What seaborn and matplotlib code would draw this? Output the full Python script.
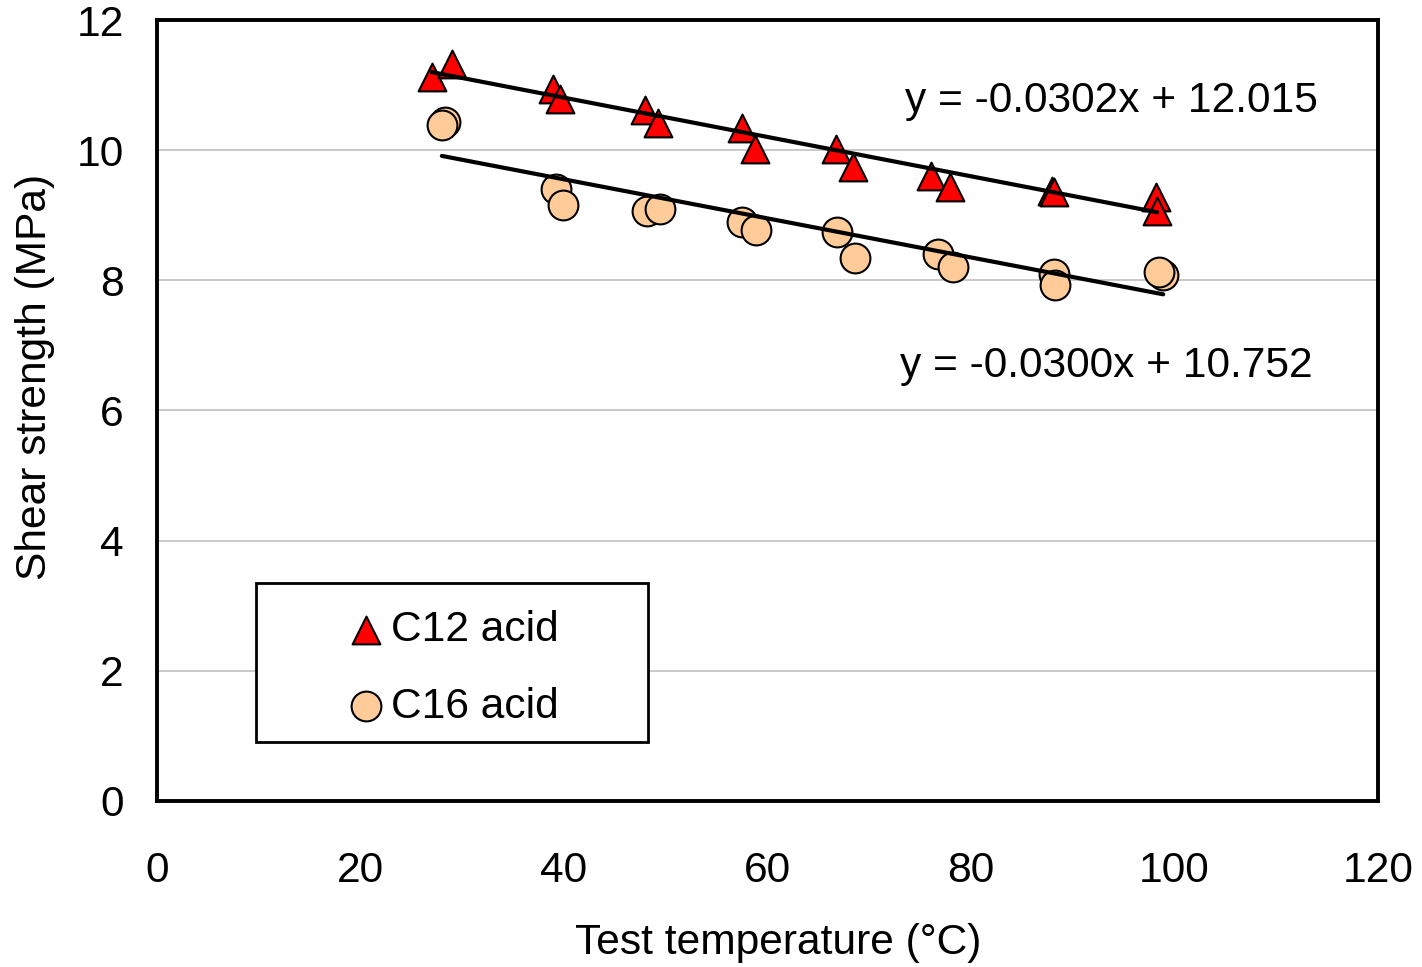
import numpy as np
import pandas as pd
import matplotlib
matplotlib.use("Agg")
import matplotlib.pyplot as plt
from matplotlib.patches import Rectangle
import seaborn as sns

# data
c12_temp = [27.0, 29.0, 38.9, 39.6, 48.0, 49.2, 57.5, 58.8, 66.7, 68.4, 76.1, 77.9, 88.0, 88.2, 98.2, 98.3]
c12_shear = [11.12, 11.32, 10.94, 10.78, 10.62, 10.42, 10.34, 10.02, 10.02, 9.74, 9.60, 9.43, 9.37, 9.35, 9.28, 9.06]
c16_temp = [28.3, 28.0, 39.2, 39.9, 48.2, 49.4, 57.5, 58.9, 66.8, 68.6, 76.8, 78.2, 88.2, 88.3, 98.9, 98.5]
c16_shear = [10.43, 10.39, 9.41, 9.16, 9.07, 9.10, 8.90, 8.78, 8.75, 8.35, 8.41, 8.21, 8.10, 7.93, 8.08, 8.13]

series_names = ["C12 acid", "C16 acid"]
slopes = [-0.0302, -0.0300]
intercepts = [12.015, 10.752]
eq_labels = ["y = -0.0302x + 12.015", "y = -0.0300x + 10.752"]

df12 = pd.DataFrame({"temp": c12_temp, "shear": c12_shear})
df16 = pd.DataFrame({"temp": c16_temp, "shear": c16_shear})

sns.set_style("white")
plt.rcParams["font.family"] = ["Liberation Sans", "DejaVu Sans"]
plt.rcParams["text.color"] = "black"
plt.rcParams["axes.labelcolor"] = "black"

fs = 30.6

fig = plt.figure(figsize=(14.22, 9.67), dpi=100)
ax = fig.add_axes([0.1104, 0.1717, 0.8586, 0.8076])

ax.set_xlim(0, 120)
ax.set_ylim(0, 12)
ax.set_yticks(range(0, 13, 2))
ax.set_xticks(range(0, 121, 20))
ax.grid(axis="y", color="#c0c0c0", linewidth=1.2)
ax.set_axisbelow(True)

# trendlines
for d, m, b in zip([df12, df16], slopes, intercepts):
    xs = np.array([d["temp"].min(), d["temp"].max()])
    sns.lineplot(x=xs, y=m * xs + b, color="black", linewidth=3, ax=ax, zorder=3)

sns.scatterplot(data=df12, x="temp", y="shear", marker="^", s=400, color="#ff0000",
                edgecolor="black", linewidth=1.5, ax=ax, zorder=2, label=series_names[0])
sns.scatterplot(data=df16, x="temp", y="shear", marker="o", s=460, color="#ffcc99",
                edgecolor="black", linewidth=1.5, ax=ax, zorder=2, label=series_names[1])

ax.text(73.5, 10.76, eq_labels[0], fontsize=fs, va="center", ha="left")
ax.text(73.0, 6.69, eq_labels[1], fontsize=fs, va="center", ha="left")

for s in ax.spines.values():
    s.set_color("black")
    s.set_linewidth(2.8)

ax.tick_params(axis="both", direction="in", length=10, color="#999999", width=1,
               labelsize=fs, labelcolor="black")
ax.tick_params(axis="x", pad=36)
ax.tick_params(axis="y", pad=24)

ax.set_xlabel("Test temperature (\u00b0C)", fontsize=fs, va="center")
ax.set_ylabel("Shear strength (MPa)", fontsize=fs, va="center")
ax.xaxis.set_label_coords(0.5086, -0.1818)
ax.yaxis.set_label_coords(-0.0999, 0.543)

leg = ax.legend(loc="center", bbox_to_anchor=(0.2416, 0.1696), frameon=False,
                fontsize=fs, handletextpad=0.1, handlelength=1.0,
                labelspacing=0.85, borderpad=0)
ax.add_patch(Rectangle((0.081, 0.0755), 0.321, 0.2035, transform=ax.transAxes,
                       facecolor="white", edgecolor="black", linewidth=2, zorder=4))
leg.set_zorder(5)

fig.savefig("out.png", dpi=100)
